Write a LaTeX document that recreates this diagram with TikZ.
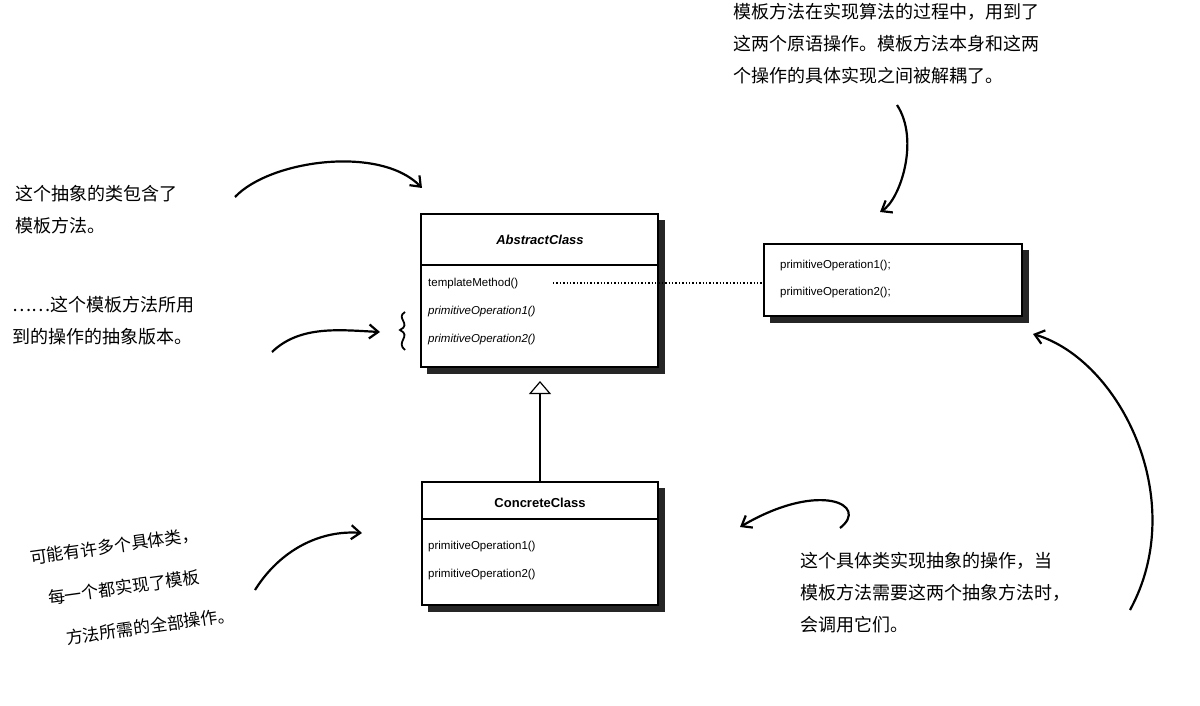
\documentclass[tikz,border=0pt]{standalone}
\usepackage{fontspec}
\setmainfont{Liberation Sans}
\newfontfamily\cjk{Noto Sans CJK SC}
\usetikzlibrary{arrows.meta}
\begin{document}
\begin{tikzpicture}[x=1pt,y=-1pt,
  note/.style={font=\cjk\fontsize{18}{32}\selectfont, align=left, anchor=north west, inner sep=0},
  rnote/.style={font=\cjk\fontsize{17}{20}\selectfont, rotate=8, anchor=west, inner sep=0},
  hand/.style={line width=2.2pt, -{Straight Barb[length=9pt,width=14pt]}},
  box/.style={draw, line width=1.1pt, fill=white},
  uml/.style={font=\fontsize{11.5}{14}\selectfont, anchor=west, inner sep=0}]
\useasboundingbox (0,0) rectangle (1200,706);
% Abstract class
\fill[black!85] (427,220) rectangle (665,374);
\draw[box] (421,214) rectangle (658,367);
\draw[line width=1.1pt] (421,265) -- (658,265);
\node[font=\bfseries\itshape\fontsize{13}{15}\selectfont] (ac) at (540,240) {AbstractClass};
\node[uml] (tm) at (428,284) {templateMethod()};
\node[uml] at (428,312) {\itshape primitiveOperation1()};
\node[uml] at (428,340) {\itshape primitiveOperation2()};
% Concrete class
\fill[black!85] (428,488) rectangle (665,612);
\draw[box] (422,482) rectangle (658,605);
\draw[line width=1.1pt] (422,519) -- (658,519);
\node[font=\bfseries\fontsize{13}{15}\selectfont] (cc) at (540,503) {ConcreteClass};
\node[uml] at (428,547) {primitiveOperation1()};
\node[uml] at (428,575) {primitiveOperation2()};
% right box
\fill[black!85] (770,250) rectangle (1029,323);
\draw[box] (764,244) rectangle (1022,316);
\node[uml] at (780,266) {primitiveOperation1();};
\node[uml] (po2) at (780,293) {primitiveOperation2();};
\coordinate (d1) at (553,283); \coordinate (d2) at (762,283);
\draw[line width=1.4pt, dotted] (d1) -- (d2);
% inheritance
\coordinate (cTop) at (540,482); \coordinate (aBot) at (540,381);
\draw[line width=1.2pt, -{Triangle[open,length=13pt,width=22pt]}] (cTop) -- (aBot);
% notes
\node[note] (n1) at (733,3) {模板方法在实现算法的过程中，用到了\\这两个原语操作。模板方法本身和这两\\个操作的具体实现之间被解耦了。};
\node[note] (n2) at (15,185) {这个抽象的类包含了\\模板方法。};
\node[note] (n3) at (12,296) {……这个模板方法所用\\到的操作的抽象版本。};
\node[rnote] (n4a) at (30,558) {可能有许多个具体类，};
\node[rnote] (n4b) at (48,598) {每一个都实现了模板};
\node[rnote] (n4c) at (66,638) {方法所需的全部操作。};
\node[note] (n5) at (800,552) {这个具体类实现抽象的操作，当\\模板方法需要这两个抽象方法时，\\会调用它们。};
% arrows
\coordinate (a1s) at (235,197); \coordinate (a1e) at (422,188);
\draw[hand] (a1s) .. controls (270,160) and (380,145) .. (a1e);
\coordinate (a2s) at (272,352); \coordinate (a2e) at (380,332);
\draw[hand] (a2s) .. controls (300,325) and (340,330) .. (a2e);
\draw[line width=1.8pt] (405,312) .. controls (395,318) and (412,324) .. (400,330) .. controls (412,336) and (395,342) .. (405,350);
\coordinate (a3s) at (897,105); \coordinate (a3e) at (880,212);
\draw[hand] (a3s) .. controls (920,140) and (900,200) .. (a3e);
\coordinate (a4s) at (1130,610); \coordinate (a4e) at (1033,334);
\draw[hand] (a4s) .. controls (1190,500) and (1120,360) .. (a4e);
\coordinate (a5s) at (840,528); \coordinate (a5e) at (740,527);
\draw[hand] (a5s) .. controls (870,505) and (820,480) .. (a5e);
\coordinate (a6s) at (255,590); \coordinate (a6e) at (362,533);
\draw[hand] (a6s) .. controls (280,550) and (320,530) .. (a6e);
\end{tikzpicture}
\end{document}
